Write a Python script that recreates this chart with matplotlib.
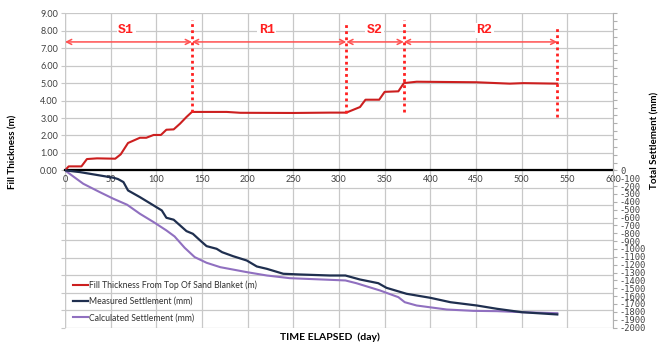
import numpy as np
import matplotlib.pyplot as plt
from matplotlib.ticker import FuncFormatter, MultipleLocator

# fill thickness from top of sand blanket (m)
fill_day = [0, 4, 18, 24, 35, 55, 61, 69, 82, 89, 97, 105, 111, 119, 126, 133, 139,
            177, 192, 250, 290, 308, 323, 329, 344, 350, 365, 371, 385, 450, 487, 502, 539]
fill_m = [0.00, 0.23, 0.23, 0.65, 0.69, 0.67, 0.92, 1.57, 1.87, 1.87, 2.03, 2.03, 2.33, 2.35, 2.68, 3.06, 3.35,
          3.35, 3.30, 3.29, 3.31, 3.31, 3.63, 4.05, 4.05, 4.50, 4.53, 5.00, 5.08, 5.05, 4.97, 5.00, 4.97]

# measured settlement (mm)
meas_day = [0, 16, 38, 53, 58, 64, 69, 82, 97, 106, 111, 119, 124, 133, 140, 148, 155, 166, 172,
            184, 199, 210, 221, 239, 257, 290, 307, 323, 343, 352, 374, 400, 422, 451, 473, 500, 539]
meas_mm = [0, -21, -64, -93, -110, -149, -255, -340, -446, -510, -603, -628, -680, -773, -807, -892,
           -964, -998, -1041, -1092, -1147, -1223, -1253, -1316, -1325, -1338, -1338, -1389, -1436,
           -1495, -1571, -1622, -1678, -1720, -1762, -1805, -1834]

# calculated settlement (mm)
calc_day = [0, 20, 38, 53, 68, 82, 97, 111, 120, 131, 142, 155, 170, 199, 221, 246, 290, 307,
            319, 345, 365, 372, 385, 418, 447, 473, 500, 539]
calc_mm = [0, -170, -276, -361, -437, -552, -658, -764, -841, -985, -1104, -1176, -1232, -1295,
           -1338, -1372, -1393, -1401, -1436, -1529, -1614, -1678, -1720, -1771, -1788, -1792,
           -1805, -1818]

# construction stages: boundaries, dotted marker extents and labels
stage_bounds = [0, 139, 308, 371, 539]
marker_day = [139, 308, 371, 539]
marker_lo = [3.35, 3.31, 3.35, 3.06]
marker_hi = [8.6, 8.45, 8.6, 8.3]
stage_names = ['S1', 'R1', 'S2', 'R2']
stage_mid = [67, 221, 339, 459]

grid_c = '#c8c8c8'
plt.rcParams['font.family'] = ['Lato', 'DejaVu Sans']

fig = plt.figure(figsize=(6.64, 3.42), dpi=100)
ax = fig.add_axes([65 / 664, 14.5 / 342, 548 / 664, 314.2 / 342])
ax2 = ax.twinx()

ax.set_xlim(0, 600)
ax.set_ylim(-9, 9)
ax2.set_ylim(-2000, 2000)

ax.xaxis.set_major_locator(MultipleLocator(50))
ax.yaxis.set_major_locator(MultipleLocator(1))
ax.yaxis.set_major_formatter(FuncFormatter(lambda v, p: f'{v:.2f}' if v >= -0.01 else ''))
ax.grid(True, color=grid_c, lw=0.9)
ax.set_axisbelow(True)

for s in ['top', 'right', 'left']:
    ax.spines[s].set_visible(False)
ax.spines['bottom'].set_position(('data', 0))
ax.spines['bottom'].set_color('black')
ax.spines['bottom'].set_linewidth(1.6)
ax.spines['bottom'].set_zorder(1.5)
ax.tick_params(axis='x', length=0, labelsize=6.5, colors='#404040', pad=3)
ax.tick_params(axis='y', length=3, color=grid_c, labelsize=6.5, labelcolor='#404040', pad=2)
ax.axvline(0, color=grid_c, lw=0.9, zorder=0.5)
# keep the last day label clear of the settlement scale
for t in ax.xaxis.get_major_ticks():
    if abs(t.get_loc() - 600) < 1:
        t.label1.set_horizontalalignment('right')

ax2.yaxis.set_major_locator(MultipleLocator(100))
ax2.yaxis.set_major_formatter(FuncFormatter(lambda v, p: f'{v:.0f}' if v <= 0.5 else ''))
for s in ['top', 'left', 'bottom']:
    ax2.spines[s].set_visible(False)
ax2.spines['right'].set_color('#b0b0b0')
ax2.tick_params(axis='y', length=3, color='#b0b0b0', labelsize=6.3, labelcolor='#404040', pad=2)
for t in ax2.get_yticklabels():
    t.set_family(['DejaVu Sans Mono'])

l1, = ax.plot(fill_day, fill_m, color='#cc1f1f', lw=1.5, zorder=3,
              label='Fill Thickness From Top Of Sand Blanket (m)')
l2, = ax2.plot(meas_day, meas_mm, color='#1f2f4f', lw=1.6, zorder=3,
               label='Measured Settlement (mm)')
l3, = ax2.plot(calc_day, calc_mm, color='#9070c0', lw=1.5, zorder=2,
               label='Calculated Settlement (mm)')

# stage markers, arrows and labels
for d, lo, hi in zip(marker_day, marker_lo, marker_hi):
    ax.plot([d, d], [lo, hi], color='#ff2020', lw=2, ls=(0, (1, 1.2)), zorder=4)
for a, b in zip(stage_bounds[:-1], stage_bounds[1:]):
    ax.annotate('', xy=(b, 7.36), xytext=(a, 7.36),
                arrowprops=dict(arrowstyle='<->', color='#ff5050', lw=1.1,
                                shrinkA=0, shrinkB=0, mutation_scale=9))
for name, m in zip(stage_names, stage_mid):
    ax.text(m, 8.03, name, color='#ff2020', fontsize=9.5, fontweight='bold',
            family='Liberation Mono', ha='center', va='center', zorder=5,
            bbox=dict(facecolor='white', edgecolor='none', pad=1))

leg = ax2.legend(handles=[l1, l2, l3], loc='lower left', bbox_to_anchor=(0.005, 0.0),
                 frameon=False, fontsize=6.2, handlelength=1.8, handletextpad=0.1,
                 labelspacing=0.85, borderaxespad=0.2)
for t in leg.get_texts():
    t.set_color('#303030')

fig.text(13 / 664, 1 - 152 / 342, 'Fill Thickness (m)', rotation=90, ha='center', va='center',
         fontsize=7, fontweight='bold')
fig.text(655 / 664, 1 - 140 / 342, 'Total Settlement (mm)', rotation=90, ha='center', va='center',
         fontsize=7, fontweight='bold')
fig.text(330 / 664, 1 - 337 / 342, 'TIME ELAPSED  (day)', ha='center', va='center',
         fontsize=7.5, fontweight='bold')

fig.savefig('out.png', dpi=100)
